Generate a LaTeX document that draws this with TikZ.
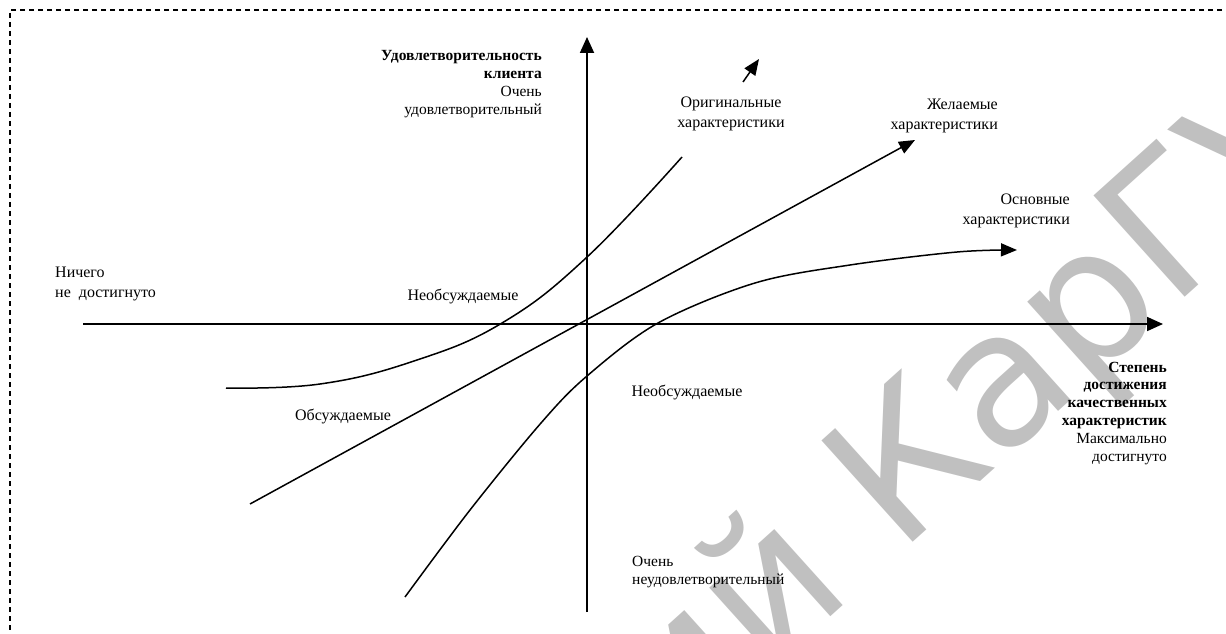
\documentclass[tikz,border=0pt]{standalone}
\usepackage{fontspec}
\setmainfont{Liberation Serif}
\newfontfamily\wmfont{DejaVu Sans}
\usetikzlibrary{arrows.meta}
\definecolor{wmgray}{RGB}{192,192,192}
\tikzset{
  axis/.style={line width=1.8pt,-{Triangle[length=16pt,width=14pt]}},
  curve/.style={line width=1.5pt},
  curvearrow/.style={line width=1.5pt,-{Triangle[length=16pt,width=13pt]}},
  lbl/.style={inner sep=0pt,font=\fontsize{16}{19.5}\selectfont},
  axlbl/.style={inner sep=0pt,font=\fontsize{15.5}{17.8}\selectfont},
  frame/.style={line width=1.1pt,dash pattern=on 5pt off 4pt},
  watermark/.style={inner sep=0pt,text=wmgray,font=\wmfont\fontsize{187}{187}\selectfont}
}
\begin{document}
\begin{tikzpicture}[x=1pt,y=-1pt]
\useasboundingbox (0,0) rectangle (1226,634);
\begin{scope}
\clip (0,0) rectangle (1226,634);
% watermark
\node[watermark,rotate=42,anchor=base west] (wm) at (675,757) {ий КарГУ};
% dashed frame (only top and left are inside the picture)
\draw[frame] (1240,10) -- (10,10) -- (10,650);
\end{scope}

% axes
\coordinate (O) at (587,324);
\coordinate (xl) at (83,324);
\coordinate (xr) at (1163,324);
\coordinate (yb) at (587,612);
\coordinate (yt) at (587,37);
\draw[axis] (xl) -- (xr);
\draw[axis] (yb) -- (yt);

% desired (linear)
\coordinate (d0) at (250,504);
\coordinate (d1) at (915,140);
\draw[curvearrow] (d0) -- (d1);

% original (excitement)
\draw[curve] plot[smooth,tension=0.7] coordinates {(226,388) (320,384) (414,361) (502,323) (586,258) (682,157)};
\coordinate (o0) at (743,82);
\coordinate (o1) at (759,59);
\draw[curvearrow] (o0) -- (o1);

% basic
\draw[curvearrow] plot[smooth,tension=0.55] coordinates {(405,597) (470,510) (541,423) (587,376) (658,323) (755,283) (850,265) (957,252) (1017,250)};

% labels (base anchor = baseline of the last line)
\node[axlbl,align=right,anchor=base east] (ylab) at (542,114) {\textbf{Удовлетворительность}\\\textbf{клиента}\\Очень\\удовлетворительный};
\node[axlbl,align=right,anchor=base east] (xlab) at (1167,461) {\textbf{Степень}\\\textbf{достижения}\\\textbf{качественных}\\\textbf{характеристик}\\Максимально\\достигнуто};
\node[lbl,align=center,anchor=base] (orig) at (731,127) {Оригинальные\\характеристики};
\node[lbl,align=right,anchor=base east] (desir) at (998,129) {Желаемые\\характеристики};
\node[lbl,align=right,anchor=base east] (basic) at (1070,224) {Основные\\характеристики};
\node[lbl,align=left,anchor=base west] (none) at (55,297) {Ничего\\не\ \ достигнуто};
\node[lbl,anchor=base] (nd1) at (463,300) {Необсуждаемые};
\node[lbl,anchor=base] (nd2) at (687,396) {Необсуждаемые};
\node[lbl,anchor=base] (disc) at (343,420) {Обсуждаемые};
\node[axlbl,align=left,anchor=base west] (vbad) at (632,584) {Очень\\неудовлетворительный};
\end{tikzpicture}
\end{document}
